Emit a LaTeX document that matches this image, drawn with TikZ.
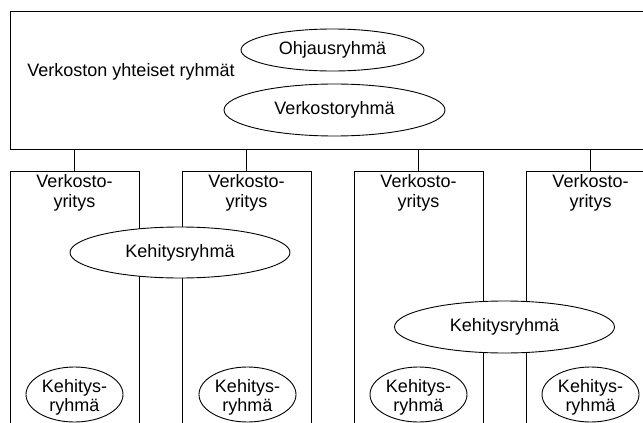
\documentclass[tikz,border=0pt]{standalone}
\usepackage{fontspec}
\setmainfont{Liberation Sans}
\usetikzlibrary{shapes.geometric}
\begin{document}
\begin{tikzpicture}[x=1pt,y=-1pt,
  line width=0.9pt,
  every node/.style={font=\fontsize{18}{20.5}\selectfont},
  topbox/.style={draw, rectangle, minimum width=660pt, minimum height=138pt, inner sep=0pt, anchor=north west},
  compbox/.style={draw, rectangle, minimum width=129pt, minimum height=280pt, inner sep=0pt, anchor=north},
  comptext/.style={align=center, inner sep=0pt, anchor=north},
  grp/.style={draw, ellipse, fill=white, inner sep=0pt, align=center},
  biggrp/.style={grp, minimum width=220pt, minimum height=51pt},
  smallgrp/.style={grp, minimum width=97pt, minimum height=55pt},
  smalltext/.style={align=center, inner sep=0pt, font=\fontsize{18}{19.5}\selectfont}
]
\useasboundingbox (0,0) rectangle (643,423);
\clip (0,0) rectangle (643,423);
\fill[white] (0,0) rectangle (643,423);

% top box
\node[topbox] (top) at (10,11) {};
\node[anchor=base west, inner sep=0pt] (toptext) at (27,76) {Verkoston yhteiset ryhmät};
\node[grp, minimum width=183pt, minimum height=42pt] (ohj) at (332.5,50) {Ohjausryhmä};
\node[grp, minimum width=221pt, minimum height=52pt] (verk) at (334.5,110) {Verkostoryhmä};

% company boxes
\node[compbox] (c1) at (74.5,171) {};
\node[compbox] (c2) at (246.5,171) {};
\node[compbox] (c3) at (418.5,171) {};
\node[compbox] (c4) at (590.5,171) {};

\foreach \i in {1,2,3,4}{
  \draw (top.south -| c\i.north) -- (c\i.north);
  \node[comptext] (t\i) at ([yshift=-3pt]c\i.north) {Verkosto-\\yritys};
}

% development groups
\node[biggrp] (k12) at (180,252.5) {Kehitysryhmä};
\node[biggrp, minimum height=52pt] (k34) at (504.5,327) {Kehitysryhmä};

\foreach \i/\x in {1/74.5,2/247.5,3/418.5,4/590.5}{
  \node[smallgrp] (s\i) at (\x,394.5) {};
  \node[smalltext] (st\i) at ([yshift=-3pt]s\i.center) {Kehitys-\\ryhmä};
}
\end{tikzpicture}
\end{document}
